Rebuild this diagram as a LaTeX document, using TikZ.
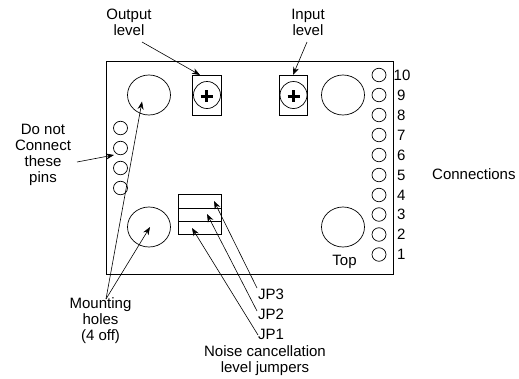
\documentclass[tikz,border=0pt]{standalone}
\usepackage{fontspec}
\setmainfont{Liberation Sans}
\usetikzlibrary{arrows.meta}
\usetikzlibrary{positioning}
\usetikzlibrary{shapes.geometric}
\tikzset{
  board line/.style={draw, line width=0.7pt},
  hole/.style={board line, ellipse, inner sep=0pt, minimum width=43pt, minimum height=40pt},
  pin/.style={board line, ellipse, inner sep=0pt, minimum width=14pt, minimum height=13.5pt},
  pot/.style={board line, rectangle, inner sep=0pt, minimum width=28.5pt, minimum height=40pt},
  screw/.style={board line, circle, inner sep=0pt, minimum size=27pt},
  jumper/.style={board line, rectangle, inner sep=0pt, minimum width=43pt, minimum height=13.3pt},
  txt/.style={inner sep=0pt, align=center, font=\fontsize{15}{16}\selectfont},
  pointer/.style={-{Stealth[length=8pt,width=6pt]}, line width=0.6pt}
}
\begin{document}
\begin{tikzpicture}[x=1pt, y=-1pt]
  \useasboundingbox (0,0) rectangle (519,378);

  % board
  \draw[board line] (106,61.5) rectangle (393,274);

  % mounting holes
  \node[hole] (h1) at (149,95) {};
  \node[hole] (h2) at (343,95) {};
  \node[hole] (h3) at (149,227) {};
  \node[hole] (h4) at (343,227) {};

  % trimmers
  \node[pot] (outpot) at (207,95) {};
  \node[pot] (inpot) at (293.5,95) {};
  \node[screw] (outscrew) at (207,95) {};
  \node[screw] (inscrew) at (293.5,95) {};
  \draw[line width=3pt] (200.5,96) -- (212.5,96) (206.5,90) -- (206.5,102);
  \draw[line width=3pt] (287.5,96) -- (299.5,96) (293.5,90) -- (293.5,102);

  % jumpers
  \node[jumper] (jp3box) at (199.5,201.2) {};
  \node[jumper] (jp2box) at (199.5,214.5) {};
  \node[jumper] (jp1box) at (199.5,227.8) {};

  % unused pins
  \foreach \i/\y in {1/128,2/148,3/168,4/188}
    \node[pin] (lp\i) at (120.5,\y) {};

  % connection pins
  \foreach \i/\y in {10/75,9/95,8/115,7/135,6/155,5/175,4/195,3/214.5,2/234.5,1/254.5}
    \node[pin] (p\i) at (379,\y) {};
  \node[txt, anchor=west] (n10) at (393.5,75) {10};
  \foreach \i/\y in {9/95,8/115,7/135,6/155,5/175,4/195,3/214.5,2/234.5,1/254.5}
    \node[txt, anchor=west] (n\i) at (397,\y) {\i};

  \node[txt, anchor=west] (conn) at (432,174) {Connections};
  \node[txt] (top) at (344.5,262) {Top};

  \node[txt] (outlbl) at (129,22) {Output\\level};
  \node[txt] (inlbl) at (308,22) {Input\\level};
  \node[txt] (dnc) at (43,155) {Do not\\Connect\\these\\pins};
  \node[txt] (mount) at (100.5,321) {Mounting\\holes\\(4 off)};
  \node[txt, anchor=west] (jp3) at (258,294) {JP3};
  \node[txt, anchor=west] (jp2) at (258,314) {JP2};
  \node[txt, anchor=west] (jp1) at (258,334) {JP1};
  \node[txt] (noise) at (265,360.5) {Noise cancellation\\level jumpers};

  % arrow ends
  \coordinate (outtail) at (142,42);
  \coordinate (outhead) at (200,75);
  \coordinate (intail) at (307,42);
  \coordinate (inhead) at (293,75);
  \coordinate (dnctail) at (77,162);
  \coordinate (dnchead) at (114,155);
  \coordinate (mnttail) at (106,299);
  \coordinate (mnthead1) at (142,101.5);
  \coordinate (mnthead2) at (150,227);
  \coordinate (jp3tail) at (257,288);
  \coordinate (jp2tail) at (257,311);
  \coordinate (jp1tail) at (258,335);
  \coordinate (jp3head) at (214,201);
  \coordinate (jp2head) at (207,214);
  \coordinate (jp1head) at (192,228);

  \draw[pointer] (outtail) -- (outhead);
  \draw[pointer] (intail) -- (inhead);
  \draw[pointer] (dnctail) -- (dnchead);
  \draw[pointer] (mnttail) -- (mnthead1);
  \draw[pointer] (mnttail) -- (mnthead2);
  \draw[pointer] (jp3tail) -- (jp3head);
  \draw[pointer] (jp2tail) -- (jp2head);
  \draw[pointer] (jp1tail) -- (jp1head);
\end{tikzpicture}
\end{document}
